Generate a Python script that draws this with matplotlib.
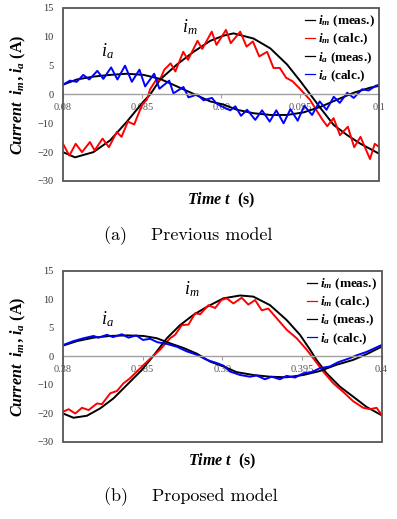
import matplotlib
matplotlib.use("Agg")
import matplotlib.pyplot as plt
import numpy as np
from matplotlib.patches import Rectangle
from matplotlib.lines import Line2D

plt.rcParams['font.family'] = 'Liberation Serif'
plt.rcParams['mathtext.fontset'] = 'custom'
plt.rcParams['mathtext.rm'] = 'Liberation Serif'
plt.rcParams['mathtext.it'] = 'Liberation Serif:italic'
plt.rcParams['mathtext.bf'] = 'Liberation Serif:bold:italic'

# ---- (a) previous model ----
a_im_meas_t = [0.0800, 0.08076, 0.08192, 0.08298, 0.08404, 0.08509, 0.08551, 0.08614, 0.08720,
               0.08825, 0.08930, 0.09014, 0.09078, 0.09204, 0.09310, 0.09416, 0.09500, 0.09563,
               0.09627, 0.09711, 0.09796, 0.09880, 0.1000]
a_im_meas = [-20.0, -21.8, -20.0, -15.9, -9.4, -2.4, 0.0, 2.6, 5.2, 7.4, 9.3, 10.2, 10.6, 9.7,
             8.0, 5.2, 2.3, 0.0, -4.7, -10.6, -14.1, -17.1, -20.6]

a_im_calc_t = [0.0800, 0.0804, 0.0808, 0.0812, 0.0817, 0.0820, 0.0825, 0.0829, 0.0834, 0.0837,
               0.0841, 0.0845, 0.0850, 0.0853, 0.0855, 0.0859, 0.0861, 0.0864, 0.0868, 0.0871,
               0.0876, 0.0879, 0.0885, 0.0888, 0.0894, 0.0897, 0.0903, 0.0906, 0.0912, 0.0916,
               0.0920, 0.0924, 0.0929, 0.0933, 0.0937, 0.0941, 0.0945, 0.0949, 0.0953, 0.0956,
               0.0960, 0.0964, 0.0967, 0.0971, 0.0975, 0.0980, 0.0984, 0.0988, 0.0994, 0.0997,
               0.1000]
a_im_calc = [-17.1, -21.2, -17.1, -20.0, -16.5, -19.4, -15.3, -18.3, -13.0, -14.7,
             -9.4, -10.4, -3.5, -1.8, 0.9, 2.6, 2.4, 4.3, 5.4, 4.0,
             7.4, 6.0, 9.3, 7.9, 10.9, 8.6, 11.2, 8.9, 10.9, 8.3,
             9.2, 6.6, 7.4, 4.6, 4.6, 2.9, 2.3, 1.2, 0.0, -1.8,
             -5.3, -8.8, -11.0, -8.2, -14.1, -11.2, -18.3, -14.7, -22.4, -17.1,
             -18.3]

a_ia_meas_t = [0.0800, 0.08087, 0.08192, 0.08298, 0.08404, 0.08509, 0.08614, 0.08720, 0.08825,
               0.08930, 0.09014, 0.09099, 0.09204, 0.09310, 0.09416, 0.09521, 0.09627, 0.09732,
               0.09837, 0.09943, 0.1000]
a_ia_meas = [1.7, 2.6, 3.1, 3.4, 3.6, 3.4, 2.7, 1.4, 0.1, -2.4, -3.5, -5.3, -6.5, -7.1, -7.1,
             -6.2, -4.3, -1.8, 0.3, 1.2, 1.5]

a_ia_calc_t = [0.0800, 0.08044, 0.08087, 0.08128, 0.08166, 0.08217, 0.08255, 0.08304, 0.08344,
               0.08392, 0.08435, 0.08483, 0.08519, 0.08576, 0.08609, 0.08671, 0.08698, 0.08761,
               0.08793, 0.08848, 0.08888, 0.08941, 0.08968, 0.08994, 0.09057, 0.09089, 0.09125,
               0.09163, 0.09215, 0.09258, 0.09306, 0.09348, 0.09394, 0.09437, 0.09483, 0.09525,
               0.09574, 0.09622, 0.09665, 0.09711, 0.09749, 0.09796, 0.09837, 0.09890, 0.09932,
               0.09975, 0.1000]
a_ia_calc = [1.7, 2.4, 2.2, 3.4, 2.6, 4.1, 2.7, 4.7, 2.6,
             5.0, 2.2, 4.3, 1.4, 3.6, 1.0, 2.4, 0.2, 1.3,
             -1.0, 0.0, -2.0, -1.2, -3.0, -3.9, -5.5, -4.1, -7.4,
             -5.3, -8.8, -5.5, -9.4, -5.5, -10.0, -5.1, -9.1, -3.9,
             -7.1, -2.4, -5.3, -0.8, -2.9, 0.3, -1.2, 0.9, 0.7,
             1.5, 1.7]

a_xticks = [0.08, 0.085, 0.09, 0.095, 0.1]
a_xticklabels = ['0.08', '0.085', '0.09', '0.095', '0.1']

# ---- (b) proposed model ----
b_im_meas_t = [0.3800, 0.38066, 0.38150, 0.38234, 0.38317, 0.38401, 0.38485, 0.38547, 0.38589,
               0.38652, 0.38735, 0.38819, 0.38903, 0.39007, 0.39112, 0.39195, 0.39300, 0.39404,
               0.39488, 0.39551, 0.39592, 0.39655, 0.39739, 0.39822, 0.39906, 0.4000]
b_im_meas = [-20.0, -21.5, -20.8, -18.2, -14.7, -10.0, -5.3, -1.2, 0.9, 3.2, 5.5, 7.3, 8.7,
             10.2, 10.7, 10.5, 9.0, 6.4, 3.8, 1.2, -1.2, -5.9, -10.6, -14.1, -17.7, -20.6]

b_im_calc_t = [0.3800, 0.38035, 0.38077, 0.38119, 0.38161, 0.38213, 0.38245, 0.38297, 0.38339,
               0.38380, 0.38422, 0.38485, 0.38547, 0.38610, 0.38672, 0.38704, 0.38746, 0.38788,
               0.38830, 0.38861, 0.38913, 0.38955, 0.38995, 0.39028, 0.39070, 0.39122, 0.39164,
               0.39206, 0.39248, 0.39289, 0.39342, 0.39404, 0.39467, 0.39530, 0.39571, 0.39634,
               0.39697, 0.39759, 0.39822, 0.39885, 0.39927, 0.39969, 0.4000]
b_im_calc = [-19.4, -18.5, -20.0, -18.0, -18.8, -16.5, -16.7, -12.9, -12.1,
             -9.4, -7.6, -4.1, -0.8, 1.2, 3.2, 3.8, 5.5, 5.6,
             7.6, 7.4, 9.0, 8.5, 9.9, 10.2, 9.3, 10.3, 9.1,
             9.9, 8.1, 8.4, 6.7, 4.7, 3.2, 1.2, -0.6, -5.3,
             -9.4, -12.4, -15.7, -18.0, -18.5, -18.0, -20.4]

b_ia_meas_t = [0.3800, 0.38088, 0.38192, 0.38297, 0.38401, 0.38505, 0.38589, 0.38673, 0.38756,
               0.38840, 0.38924, 0.39007, 0.39091, 0.39195, 0.39300, 0.39404, 0.39509, 0.39613,
               0.39718, 0.39822, 0.39906, 0.4000]
b_ia_meas = [1.9, 2.7, 3.3, 3.6, 3.7, 3.6, 3.2, 2.3, 1.5, 0.5, -1.8, -3.5, -5.5, -6.5, -7.1,
             -7.3, -6.5, -5.1, -2.9, -1.2, 0.4, 1.7]

b_ia_calc_t = [0.3800, 0.38066, 0.38129, 0.38192, 0.38223, 0.38276, 0.38314, 0.38370, 0.38411,
               0.38460, 0.38502, 0.38547, 0.38593, 0.38652, 0.38715, 0.38777, 0.38840, 0.38903,
               0.38966, 0.39007, 0.39049, 0.39112, 0.39174, 0.39216, 0.39268, 0.39310, 0.39362,
               0.39404, 0.39457, 0.39509, 0.39561, 0.39613, 0.39676, 0.39728, 0.39791, 0.39843,
               0.39906, 0.4000]
b_ia_calc = [2.0, 2.7, 3.2, 3.6, 3.3, 3.8, 3.4, 3.9, 3.3,
             3.7, 2.9, 3.1, 2.5, 2.2, 1.7, 0.9, 0.3, -1.2,
             -2.3, -3.2, -5.3, -6.5, -7.1, -6.7, -8.0, -7.1, -8.0,
             -6.8, -7.4, -5.9, -5.5, -4.1, -3.5, -2.0, -0.8, 0.2,
             0.8, 2.0]

b_xticks = [0.38, 0.385, 0.39, 0.395, 0.4]
b_xticklabels = ['0.38', '0.385', '0.39', '0.395', '0.4']

yticks = [-30, -20, -10, 0, 5, 10, 15]
yticklabels = ['\u221230', '\u221220', '\u221210', '0', '5', '10', '15']

legend_labels = [r'$\mathbf{i_m}$ (meas.)', r'$\mathbf{i_m}$ (calc.)',
                 r'$\mathbf{i_a}$ (meas.)', r'$\mathbf{i_a}$ (calc.)']
colors = ['black', 'red', 'black', 'blue']


# axis below zero is compressed by half (ticks -10,-20,-30 evenly spaced with 5,10,15)
def fwd(y):
    y = np.asarray(y, dtype=float)
    return np.where(y >= 0, y, y / 2)


def inv(y):
    y = np.asarray(y, dtype=float)
    return np.where(y >= 0, y, y * 2)


def panel(ax, series, xticks, xticklabels, im_pos, ia_pos):
    for (t, v), c in zip(series, colors):
        ax.plot(t, v, color=c, lw=1.4)
    ax.set_yscale('function', functions=(fwd, inv))
    ax.set_xlim(xticks[0], xticks[-1])
    ax.set_ylim(-30, 15)
    ax.set_yticks(yticks)
    ax.set_yticklabels(yticklabels)
    ax.set_xticks(xticks)
    ax.set_xticklabels(xticklabels)
    ax.minorticks_off()
    for s in ['top', 'right', 'left']:
        ax.spines[s].set_visible(False)
    ax.spines['bottom'].set_position(('data', 0))
    ax.spines['bottom'].set_color('#a0a0a0')
    ax.spines['bottom'].set_linewidth(1.0)
    ax.add_patch(Rectangle((0, 0), 1, 1, transform=ax.transAxes, fill=False,
                           ec='#555555', lw=1.3, clip_on=False, zorder=5))
    ax.tick_params(axis='x', length=3, width=0.8, color='#a0a0a0', pad=3,
                   labelsize=7.5, labelcolor='#555555')
    ax.tick_params(axis='y', length=0, pad=7, labelsize=7.5, labelcolor='#333333')
    ax.set_ylabel(r'$\mathbf{Current\ \ i_m\,,i_a}$ (A)', fontsize=11.5, fontweight='bold')
    ax.yaxis.set_label_coords(-0.11, 0.5)
    ax.text(0.5, -0.115, r'$\mathbf{Time\ t}$  (s)', transform=ax.transAxes,
            ha='center', va='center', fontsize=11.5, fontweight='bold')
    ax.text(im_pos[0], im_pos[1], r'$i_m$', transform=ax.transAxes, fontsize=13,
            ha='left', va='center')
    ax.text(ia_pos[0], ia_pos[1], r'$i_a$', transform=ax.transAxes, fontsize=13,
            ha='left', va='center')
    handles = [Line2D([], [], color=c, lw=0.9) for c in colors]
    ax.legend(handles, legend_labels, loc='upper right', bbox_to_anchor=(1.005, 1.0),
              frameon=False, prop={'weight': 'bold', 'size': 9.5}, handlelength=0.75,
              handletextpad=0.25, labelspacing=0.2, borderpad=0.25, borderaxespad=0.2)


fig = plt.figure(figsize=(3.97, 5.19), dpi=100)
ax_a = fig.add_axes([0.1587, 0.6513, 0.7972, 0.3333])
ax_b = fig.add_axes([0.1587, 0.1484, 0.8023, 0.3295])

panel(ax_a, [(a_im_meas_t, a_im_meas), (a_im_calc_t, a_im_calc),
             (a_ia_meas_t, a_ia_meas), (a_ia_calc_t, a_ia_calc)],
      a_xticks, a_xticklabels, (0.375, 0.89), (0.12, 0.75))
panel(ax_b, [(b_im_meas_t, b_im_meas), (b_im_calc_t, b_im_calc),
             (b_ia_meas_t, b_ia_meas), (b_ia_calc_t, b_ia_calc)],
      b_xticks, b_xticklabels, (0.38, 0.895), (0.12, 0.72))

fig.text(0.262, 1 - 236 / 519, '(a)    Previous model', family='cmr10', fontsize=13,
         ha='left', va='center')
fig.text(0.262, 1 - 497 / 519, '(b)    Proposed model', family='cmr10', fontsize=13,
         ha='left', va='center')

fig.savefig('out.png', dpi=100)
